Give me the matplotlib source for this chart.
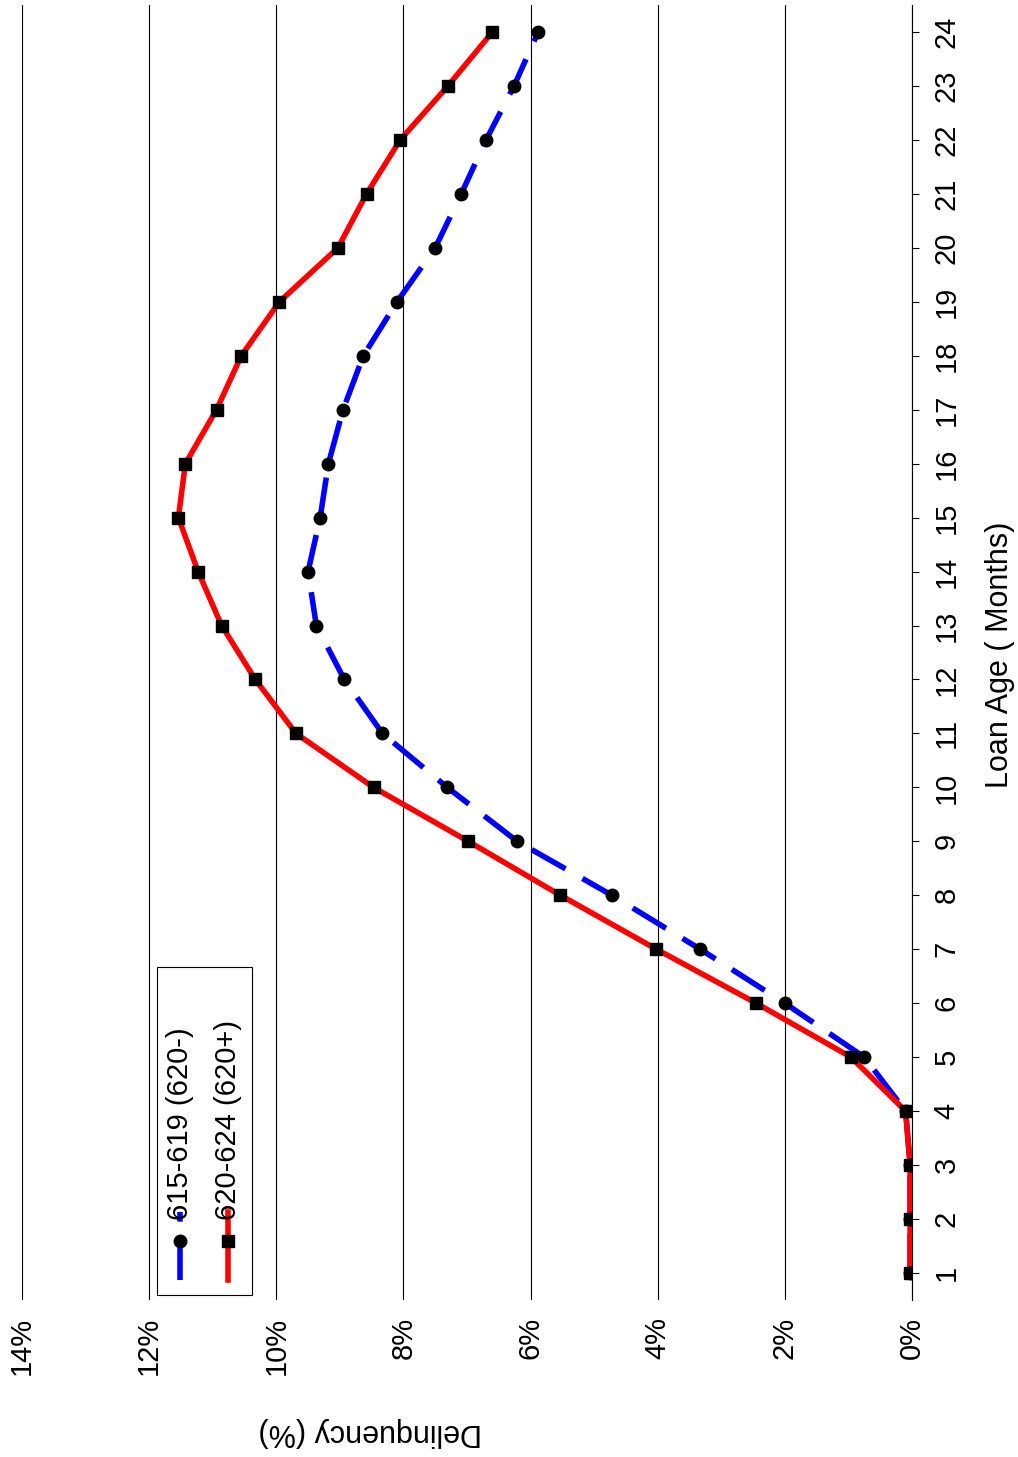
import numpy as np
import matplotlib.pyplot as plt
from matplotlib.patches import Rectangle
from matplotlib.lines import Line2D

plt.rcParams['font.family'] = ['Liberation Sans', 'DejaVu Sans']

# data: loan age (months) vs delinquency (%)
months = list(range(1, 25))
low_score = [0.03, 0.03, 0.03, 0.1, 0.75, 2.0, 3.33, 4.72, 6.21, 7.31, 8.33, 8.93,
             9.37, 9.5, 9.31, 9.18, 8.95, 8.63, 8.1, 7.5, 7.09, 6.7, 6.26, 5.88]
high_score = [0.03, 0.03, 0.03, 0.1, 0.96, 2.45, 4.02, 5.53, 6.98, 8.47, 9.69, 10.33,
              10.86, 11.23, 11.54, 11.43, 10.94, 10.55, 9.95, 9.03, 8.58, 8.05, 7.3, 6.6]
labels = ['615-619 (620-)', '620-624 (620+)']
pct_ticks = [0, 2, 4, 6, 8, 10, 12, 14]

W, H = 1018, 1457
FS = 21
DASH = (0, (7, 3.5))
fig = plt.figure(figsize=(W / 100, H / 100), dpi=100)
ax = fig.add_axes([22 / W, (H - 1300) / H, (912 - 22) / W, (1300 - 5) / H])

# chart is drawn rotated: delinquency runs right-to-left, loan age bottom-to-top
ax.plot(low_score, months, color='blue', lw=4, ls=DASH, zorder=2)
ax.plot(high_score, months, color='red', lw=4, zorder=3)
ax.plot(low_score, months, 'o', color='black', ms=9, zorder=4)
ax.plot(high_score, months, 's', color='black', ms=9, zorder=5)

ax.set_xlim(14, 0)
ax.set_ylim(0.5, 24.5)
ax.set_xticks(pct_ticks)
ax.set_xticklabels(['%d%%' % p for p in pct_ticks], rotation=90, fontsize=FS)
ax.set_yticks(months)
ax.set_yticklabels([str(m) for m in months], rotation=90, fontsize=FS, va='center')
ax.yaxis.tick_right()
ax.tick_params(axis='x', length=0, pad=12)
ax.tick_params(axis='y', direction='out', length=5, pad=10)
ax.grid(axis='x', color='black', lw=0.8)
for s in ['top', 'bottom', 'left']:
    ax.spines[s].set_visible(False)
fig.text(1000 / W, (H - 655) / H, 'Loan Age ( Months)', rotation=90, fontsize=FS + 1,
         ha='center', va='center')
fig.text(370 / W, (H - 1432) / H, 'Delinquency (%)', rotation=180, fontsize=FS + 1,
         ha='center', va='center')

# legend drawn by hand so its text can be rotated
fig.patches.append(Rectangle((157 / W, (H - 1295) / H), 95 / W, 328 / H,
                             transform=fig.transFigure, fill=False, ec='black', lw=0.8))
for xp, col, ls, mk, lab in [(180, 'blue', DASH, 'o', labels[0]),
                             (228, 'red', '-', 's', labels[1])]:
    fig.add_artist(Line2D([xp / W, xp / W], [(H - 1280) / H, (H - 1212) / H],
                          color=col, lw=4, ls=ls, transform=fig.transFigure))
    fig.add_artist(Line2D([xp / W], [(H - 1241) / H], marker=mk, color='black',
                          ms=9, transform=fig.transFigure))
    fig.text(xp / W, (H - 1220) / H, lab, rotation=90, fontsize=FS,
             ha='center', va='bottom')

fig.savefig('out.png', dpi=100)
